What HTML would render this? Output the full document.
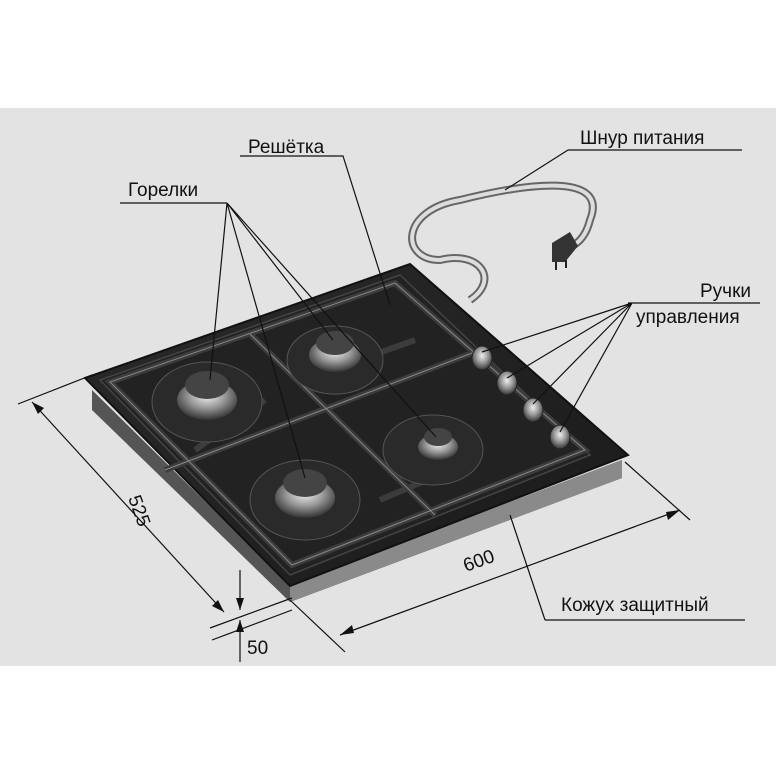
<!DOCTYPE html>
<html><head><meta charset="utf-8"><style>
html,body{margin:0;padding:0;background:#fff}
svg{display:block}
text{font-family:"Liberation Sans",sans-serif;font-size:19px;fill:#111}
</style></head><body>
<svg width="776" height="776" viewBox="0 0 776 776">
<defs>
<radialGradient id="br" cx="50%" cy="40%" r="60%"><stop offset="0" stop-color="#eee"/><stop offset="0.5" stop-color="#999"/><stop offset="1" stop-color="#333"/></radialGradient>
<linearGradient id="top" x1="0" y1="0" x2="1" y2="1"><stop offset="0" stop-color="#2a2a2a"/><stop offset="1" stop-color="#1a1a1a"/></linearGradient>
</defs>
<rect x="0" y="0" width="776" height="776" fill="#fff"/>
<rect x="0" y="108" width="776" height="558" fill="#e3e3e3"/>
<path d="M470 300 C 500 280, 480 250, 440 260 C 400 260, 400 210, 460 200 C 520 185, 610 170, 590 220 C 585 240, 575 245, 565 250" fill="none" stroke="#666" stroke-width="8"/>
<path d="M470 300 C 500 280, 480 250, 440 260 C 400 260, 400 210, 460 200 C 520 185, 610 170, 590 220 C 585 240, 575 245, 565 250" fill="none" stroke="#ddd" stroke-width="4"/>
<path d="M552 243 L570 232 L578 246 L565 262 L552 262 Z" fill="#333"/>
<line x1="556" y1="262" x2="556" y2="270" stroke="#222" stroke-width="2"/><line x1="566" y1="260" x2="566" y2="268" stroke="#222" stroke-width="2"/>
<path d="M92 390 L290 585 L622 460 L622 478 L290 602 L92 410 Z" fill="#555"/>
<path d="M290 585 L290 602 L622 478 L622 460 Z" fill="#8a8a8a"/>
<path d="M85 378 L410 264 L628 455 L290 586 Z" fill="url(#top)" stroke="#111" stroke-width="2"/>
<path d="M100 380 L400 275 L590 455 L290 575 Z" fill="#222" stroke="#444" stroke-width="1.5"/>
<g stroke="#3c3c3c" stroke-width="6" fill="none">
<path d="M110 382 L395 283 L585 450 L292 565 Z"/>
<path d="M250 334 L435 515"/>
<path d="M165 470 L480 350"/>
<path d="M195 450 L265 400 M345 365 L415 340"/>
<path d="M380 500 L450 470"/>
</g>
<g stroke="#888" stroke-width="1" fill="none">
<path d="M110 382 L395 283 L585 450 L292 565 Z"/>
<path d="M250 334 L435 515"/><path d="M165 470 L480 350"/>
</g>
<g>
<ellipse cx="207" cy="402" rx="55" ry="40" fill="#2a2a2a" stroke="#555"/>
<ellipse cx="207" cy="400" rx="30" ry="20" fill="url(#br)"/>
<ellipse cx="207" cy="385" rx="22" ry="14" fill="#444"/>
<ellipse cx="335" cy="360" rx="48" ry="34" fill="#2a2a2a" stroke="#555"/>
<ellipse cx="335" cy="355" rx="26" ry="17" fill="url(#br)"/>
<ellipse cx="335" cy="343" rx="19" ry="12" fill="#444"/>
<ellipse cx="433" cy="450" rx="50" ry="35" fill="#2a2a2a" stroke="#555"/>
<ellipse cx="438" cy="447" rx="20" ry="13" fill="url(#br)"/>
<ellipse cx="438" cy="437" rx="14" ry="9" fill="#444"/>
<ellipse cx="305" cy="500" rx="55" ry="40" fill="#2a2a2a" stroke="#555"/>
<ellipse cx="305" cy="498" rx="30" ry="20" fill="url(#br)"/>
<ellipse cx="305" cy="483" rx="22" ry="14" fill="#444"/>
</g>
<g fill="url(#br)" stroke="#222">
<ellipse cx="482" cy="358" rx="10" ry="12"/><ellipse cx="507" cy="383" rx="10" ry="12"/>
<ellipse cx="533" cy="410" rx="10" ry="12"/><ellipse cx="560" cy="437" rx="10" ry="12"/>
</g>
<g stroke="#111" stroke-width="1.2" fill="none">
<path d="M120 203 L227 203 M227 203 L210 380 M227 203 L305 478 M227 203 L333 340 M227 203 L436 437"/>
<path d="M240 156 L343 156 L390 305"/>
<path d="M568 150 L742 150 M568 150 L505 190"/>
<path d="M628 303 L760 303 M632 303 L482 352 M632 303 L507 378 M632 303 L533 404 M632 303 L560 432"/>
<path d="M545 620 L745 620 M545 620 L510 515"/>
<path d="M18 404 L92 375 M210 628 L292 598 M212 640 L292 610"/>
<path d="M32 402 L224 612"/>
<path d="M290 600 L345 652 M625 462 L690 520"/>
<path d="M340 635 L680 510"/>
<path d="M240 570 L240 610 M240 620 L240 662"/>
</g>
<g fill="#111">
<path d="M32 402 L44 408 L38 414 Z"/><path d="M224 612 L212 606 L218 600 Z"/>
<path d="M340 635 L352 625 L354 633 Z"/><path d="M680 510 L668 520 L666 512 Z"/>
<path d="M240 610 L236 598 L244 598 Z"/><path d="M240 620 L236 632 L244 632 Z"/>
</g>
<text x="248" y="153">Решётка</text>
<text x="580" y="144">Шнур питания</text>
<text x="128" y="196">Горелки</text>
<text x="700" y="297">Ручки</text>
<text x="636" y="323">управления</text>
<text x="561" y="611">Кожух защитный</text>
<text x="466" y="572" transform="rotate(-20 466 572)" font-size="17">600</text>
<text x="128" y="498" transform="rotate(70 128 498)" font-size="17">525</text>
<text x="247" y="654" font-size="17">50</text>
</svg>
</body></html>
